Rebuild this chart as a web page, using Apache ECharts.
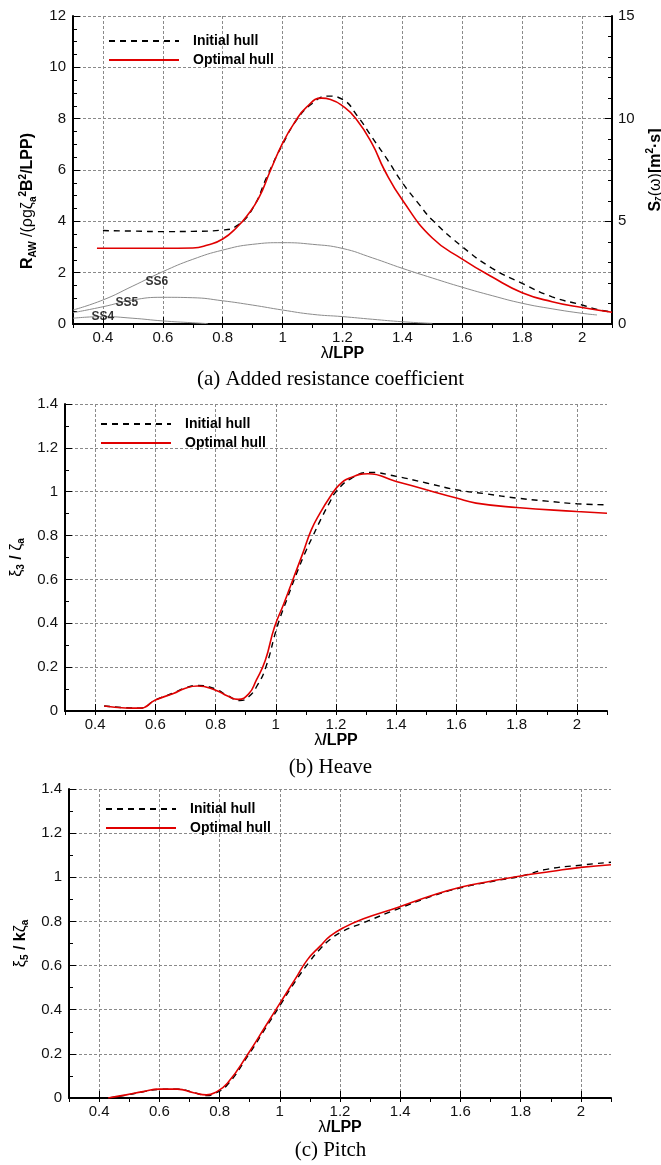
<!DOCTYPE html>
<html>
<head>
<meta charset="utf-8">
<script src="https://cdn.jsdelivr.net/npm/echarts@6/dist/echarts.min.js"></script>
<style>
html,body{margin:0;padding:0;background:#fff;}
#chart{width:661px;height:1165px;}
</style>
</head>
<body>
<div id="chart"></div>
<script>
// ---------- shared ticks ----------
const X_MIN = 0.3, X_MAX = 2.1;
const X_TICKS = [0.4, 0.6, 0.8, 1.0, 1.2, 1.4, 1.6, 1.8, 2.0];

// ---------- (a) Added resistance coefficient ----------
const raInitialX = [0.4, 0.5, 0.6, 0.7, 0.8, 0.85, 0.9, 0.95, 1.0, 1.05, 1.1, 1.15, 1.2, 1.25, 1.3, 1.35, 1.4, 1.45, 1.5, 1.6, 1.7, 1.8, 1.9, 2.0, 2.05, 2.1];
const raInitialY = [3.64, 3.62, 3.60, 3.61, 3.66, 3.85, 4.5, 5.8, 7.0, 8.0, 8.6, 8.88, 8.75, 8.1, 7.25, 6.4, 5.5, 4.75, 4.05, 3.01, 2.17, 1.58, 1.06, 0.74, 0.57, 0.47];
const raOptimalX = [0.38, 0.5, 0.6, 0.7, 0.75, 0.8, 0.85, 0.88, 0.92, 0.96, 1.0, 1.04, 1.08, 1.13, 1.16, 1.2, 1.245, 1.3, 1.34, 1.4, 1.5, 1.6, 1.7, 1.8, 1.9, 2.0, 2.1];
const raOptimalY = [2.95, 2.95, 2.95, 2.96, 3.08, 3.31, 3.8, 4.2, 4.9, 6.0, 7.05, 7.85, 8.45, 8.8, 8.75, 8.5, 8.0, 7.0, 6.0, 4.83, 3.35, 2.53, 1.83, 1.22, 0.87, 0.64, 0.46];
// wave spectra (right axis)
const ss6X = [0.3, 0.4, 0.5, 0.6, 0.7, 0.8, 0.9, 1.0, 1.1, 1.2, 1.3, 1.4, 1.5, 1.6, 1.7, 1.8, 1.9, 2.0, 2.05];
const ss6Y = [0.68, 1.17, 1.85, 2.55, 3.15, 3.6, 3.88, 3.96, 3.88, 3.68, 3.22, 2.71, 2.24, 1.79, 1.38, 1.01, 0.74, 0.52, 0.44];
const ss5X = [0.3, 0.4, 0.5, 0.6, 0.7, 0.8, 0.9, 1.0, 1.1, 1.2, 1.3, 1.4, 1.5];
const ss5Y = [0.55, 0.84, 1.17, 1.30, 1.28, 1.13, 0.92, 0.68, 0.47, 0.36, 0.23, 0.11, 0.03];
const ss4X = [0.3, 0.4, 0.5, 0.6, 0.7, 0.75];
const ss4Y = [0.28, 0.36, 0.28, 0.15, 0.06, 0.02];
const ssNames = ['SS4', 'SS5', 'SS6'];
const ssLabelX = [0.40, 0.48, 0.58];
const ssLabelY = [0.36, 1.06, 2.05];
const RA_TICKS_LEFT = [0, 12, 2];
const RA_TICKS_RIGHT = [0, 15, 5];

// ---------- (b) Heave ----------
const heaveInitialX = [0.43, 0.5, 0.55, 0.6, 0.66, 0.7, 0.74, 0.8, 0.84, 0.88, 0.91, 0.94, 0.967, 1.006, 1.04, 1.07, 1.1, 1.124, 1.15, 1.179, 1.2, 1.25, 1.312, 1.4, 1.5, 1.6, 1.7, 1.8, 1.9, 2.0, 2.1];
const heaveInitialY = [0.023, 0.015, 0.013, 0.05, 0.082, 0.106, 0.116, 0.1, 0.07, 0.048, 0.065, 0.12, 0.2, 0.39, 0.52, 0.63, 0.73, 0.8, 0.875, 0.951, 1.0, 1.06, 1.088, 1.07, 1.04, 1.009, 0.99, 0.971, 0.957, 0.945, 0.94];
const heaveOptimalX = [0.43, 0.5, 0.55, 0.6, 0.66, 0.7, 0.74, 0.8, 0.84, 0.875, 0.91, 0.935, 0.965, 0.995, 1.027, 1.057, 1.09, 1.118, 1.146, 1.18, 1.21, 1.245, 1.306, 1.4, 1.5, 1.6, 1.665, 1.8, 2.0, 2.1];
const heaveOptimalY = [0.023, 0.014, 0.013, 0.05, 0.08, 0.104, 0.114, 0.095, 0.068, 0.053, 0.078, 0.14, 0.23, 0.38, 0.49, 0.6, 0.72, 0.826, 0.9, 0.976, 1.03, 1.062, 1.082, 1.047, 1.009, 0.971, 0.948, 0.928, 0.91, 0.902];

// ---------- (c) Pitch ----------
const pitchInitialX = [0.43, 0.49, 0.546, 0.6, 0.66, 0.714, 0.756, 0.784, 0.826, 0.896, 0.952, 0.994, 1.05, 1.1, 1.134, 1.167, 1.21, 1.278, 1.389, 1.5, 1.6, 1.7, 1.8, 1.886, 2.0, 2.1];
const pitchInitialY = [0.0, 0.013, 0.028, 0.039, 0.04, 0.025, 0.011, 0.02, 0.06, 0.195, 0.315, 0.405, 0.525, 0.62, 0.675, 0.718, 0.756, 0.794, 0.855, 0.912, 0.952, 0.98, 1.005, 1.036, 1.055, 1.068];
const pitchOptimalX = [0.43, 0.49, 0.546, 0.6, 0.66, 0.714, 0.756, 0.784, 0.826, 0.896, 0.952, 0.994, 1.05, 1.092, 1.134, 1.167, 1.211, 1.278, 1.389, 1.5, 1.6, 1.7, 1.8, 1.9, 2.0, 2.1];
const pitchOptimalY = [0.0, 0.014, 0.029, 0.04, 0.04, 0.024, 0.014, 0.024, 0.067, 0.203, 0.324, 0.415, 0.536, 0.627, 0.688, 0.733, 0.771, 0.812, 0.862, 0.915, 0.955, 0.982, 1.006, 1.026, 1.045, 1.057];
const MOTION_TICKS = [0, 1.4, 0.2];

const titles = ['(a) Added resistance coefficient', '(b) Heave', '(c) Pitch'];
const legendNames = ['Initial hull', 'Optimal hull'];

// ---------- helpers ----------
const zip = (xs, ys) => xs.map((x, i) => [x, ys[i]]);
const fmt = v => String(+(+v).toFixed(2));
const SANS = '"Liberation Sans", Arial, sans-serif';
const gridLine = { show: true, lineStyle: { color: '#8a8a8a', width: 1, type: [3, 2] } };
const axisLine = { show: true, onZero: false, lineStyle: { color: '#000', width: 2 } };
const labelStyle = { color: '#111', fontSize: 15, fontFamily: SANS };
const richBase = {
  b: { fontFamily: SANS, fontWeight: 'bold', fontSize: 16, color: '#000', lineHeight: 20 },
  n: { fontFamily: SANS, fontWeight: 'normal', fontSize: 16, color: '#000', lineHeight: 20 },
  sub: { fontFamily: SANS, fontWeight: 'bold', fontSize: 10, color: '#000', lineHeight: 12, verticalAlign: 'bottom' },
  sup: { fontFamily: SANS, fontWeight: 'bold', fontSize: 10, color: '#000', lineHeight: 12, verticalAlign: 'top' }
};

function xAxes(gridIndex, nameGap) {
  return [{
    type: 'value', gridIndex, min: X_MIN, max: X_MAX,
    axisLine,
    axisTick: { show: true, inside: true, length: 7, customValues: X_TICKS, lineStyle: { color: '#000', width: 1 } },
    axisLabel: { show: true, customValues: X_TICKS, margin: 6, formatter: fmt, ...labelStyle },
    splitLine: gridLine,
    name: '{n|λ}{b|/LPP}', nameLocation: 'middle', nameGap,
    nameTextStyle: { rich: richBase }
  }, {
    type: 'value', gridIndex, min: X_MIN, max: X_MAX, interval: 0.1,
    axisLine: { show: false },
    axisTick: { show: true, inside: true, length: 4, lineStyle: { color: '#000', width: 1 } },
    axisLabel: { show: false }, splitLine: { show: false }
  }];
}

function yAxis(gridIndex, ticks, minorSplit, name, nameGap, position, extra) {
  return Object.assign({
    type: 'value', gridIndex, position: position || 'left',
    min: ticks[0], max: ticks[1], interval: ticks[2],
    axisLine,
    axisTick: { show: true, inside: true, length: 7, lineStyle: { color: '#000', width: 1 } },
    minorTick: { show: true, splitNumber: minorSplit, length: 4, lineStyle: { color: '#000', width: 1 } },
    axisLabel: { margin: 7, formatter: fmt, ...labelStyle },
    splitLine: gridLine,
    name, nameLocation: 'middle', nameGap, nameRotate: 90,
    nameTextStyle: { rich: richBase }
  }, extra || {});
}

const initStyle = { color: '#000', width: 1.4, type: [6, 5] };
const optStyle = { color: '#e00000', width: 1.6 };
function lineSeries(name, xi, yi, data, style, extra) {
  return Object.assign({
    type: 'line', name, xAxisIndex: xi, yAxisIndex: yi, data,
    showSymbol: false, symbol: 'none', smooth: 0.5,
    lineStyle: style, itemStyle: { color: style.color }, z: 5
  }, extra || {});
}
function greySeries(data) {
  return {
    type: 'line', xAxisIndex: 0, yAxisIndex: 1, data, showSymbol: false, symbol: 'none',
    smooth: 0.5, lineStyle: { color: '#8c8c8c', width: 1 }, itemStyle: { color: '#8c8c8c' }, z: 3
  };
}
function legend(left, top) {
  return {
    data: legendNames, orient: 'vertical', left, top,
    itemWidth: 70, itemHeight: 14, itemGap: 5,
    itemStyle: { color: 'rgba(0,0,0,0)', borderWidth: 0, opacity: 0 },
    textStyle: { fontFamily: SANS, fontWeight: 'bold', fontSize: 14, color: '#000', padding: [0, 0, 0, 9] }
  };
}

const option = {
  animation: false,
  backgroundColor: '#fff',
  title: [
    { text: titles[0], left: 'center', top: 364 },
    { text: titles[1], left: 'center', top: 752 },
    { text: titles[2], left: 'center', top: 1135 }
  ].map(t => Object.assign(t, { textStyle: { fontFamily: '"Liberation Serif", "Times New Roman", serif', fontWeight: 'normal', fontSize: 21, color: '#000' } })),
  legend: [legend(103, 29), legend(95, 412), legend(100, 797)],
  grid: [
    { left: 73, right: 49, top: 16, height: 308, outerBoundsMode: 'none', containLabel: false },
    { left: 65, right: 54, top: 404, height: 307, outerBoundsMode: 'none', containLabel: false },
    { left: 69, right: 50, top: 789, height: 309, outerBoundsMode: 'none', containLabel: false }
  ],
  xAxis: [...xAxes(0, 19), ...xAxes(1, 18), ...xAxes(2, 19)],
  yAxis: [
    yAxis(0, RA_TICKS_LEFT, 4, '{b|R}{sub|AW}{n| /(ρgζ}{sub|a}{sup|2}{b|B}{sup|2}{b|/LPP)}', 35, 'left',
      { nameTextStyle: { rich: richBase, padding: [0, 62, 0, 0] } }),
    yAxis(0, RA_TICKS_RIGHT, 5, '{b|S}{sub|ζ}{n|(ω)}{b|[m}{sup|2}{b|·s]}', 19, 'right',
      { splitLine: { show: false }, axisLabel: { margin: 6, formatter: fmt, ...labelStyle } }),
    yAxis(1, MOTION_TICKS, 2, '{n|ξ}{sub|3}{b| / }{n|ζ}{sub|a}', 38, 'left'),
    yAxis(2, MOTION_TICKS, 2, '{n|ξ}{sub|5}{b| / k}{n|ζ}{sub|a}', 38, 'left')
  ],
  series: [
    greySeries(zip(ss6X, ss6Y)),
    greySeries(zip(ss5X, ss5Y)),
    greySeries(zip(ss4X, ss4Y)),
    {
      type: 'scatter', xAxisIndex: 0, yAxisIndex: 1, symbolSize: 1, z: 6,
      itemStyle: { color: 'rgba(0,0,0,0)' },
      data: ssNames.map((n, i) => ({ value: [ssLabelX[i], ssLabelY[i]], name: n })),
      label: { show: true, position: 'inside', formatter: p => p.name, fontFamily: SANS, fontWeight: 'bold', fontSize: 12, color: '#000' }
    },
    lineSeries(legendNames[0], 0, 0, zip(raInitialX, raInitialY), initStyle),
    lineSeries(legendNames[1], 0, 0, zip(raOptimalX, raOptimalY), optStyle),
    lineSeries(legendNames[0], 2, 2, zip(heaveInitialX, heaveInitialY), initStyle),
    lineSeries(legendNames[1], 2, 2, zip(heaveOptimalX, heaveOptimalY), optStyle),
    lineSeries(legendNames[0], 4, 3, zip(pitchInitialX, pitchInitialY), initStyle),
    lineSeries(legendNames[1], 4, 3, zip(pitchOptimalX, pitchOptimalY), optStyle)
  ]
};

const chart = echarts.init(document.getElementById('chart'), null, { renderer: 'canvas' });
chart.setOption(option);
</script>
</body>
</html>
